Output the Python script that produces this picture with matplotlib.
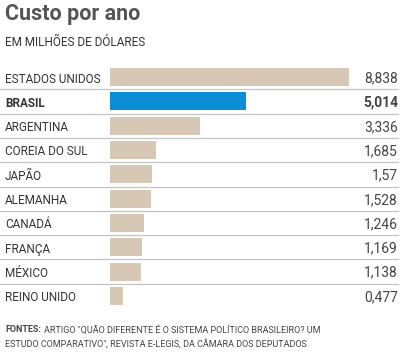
import matplotlib.pyplot as plt
from matplotlib.transforms import blended_transform_factory

countries = ["ESTADOS UNIDOS", "BRASIL", "ARGENTINA", "COREIA DO SUL", "JAPÃO",
             "ALEMANHA", "CANADÁ", "FRANÇA", "MÉXICO", "REINO UNIDO"]
values = [8.838, 5.014, 3.336, 1.685, 1.57, 1.528, 1.246, 1.169, 1.138, 0.477]
value_labels = ["8,838", "5,014", "3,336", "1,685", "1,57", "1,528", "1,246",
                "1,169", "1,138", "0,477"]
highlight = "BRASIL"

W, H = 404, 353
plt.rcParams['font.family'] = ['Liberation Sans Narrow', 'Roboto', 'DejaVu Sans']

fig = plt.figure(figsize=(W / 100, H / 100), dpi=100)

# axes spans full width; bars start at pixel x=110
px_per_unit = 239 / 8.838
x0 = 110
top, bottom = 65, 308
ax = fig.add_axes([0, 1 - bottom / H, 1, (bottom - top) / H])
ax.set_xlim(-x0 / px_per_unit, (W - x0) / px_per_unit)
ax.set_ylim(len(countries) - 0.5, -0.5)
ax.axis('off')

tan = '#d6c8b4'
blue = '#0a8fd6'
txt = '#333333'

colors = [blue if c == highlight else tan for c in countries]
ax.barh(range(len(countries)), values, height=0.74, color=colors, left=0)

for i in range(len(countries) - 1):
    ax.axhline(i + 0.5, xmin=0, xmax=398 / W, color='#c4c4c4', lw=0.9)

tr = blended_transform_factory(fig.transFigure, ax.transData)
for i, (c, v) in enumerate(zip(countries, value_labels)):
    bold = c == highlight
    ax.text(5 / W, i + 0.08, c, transform=tr, ha='left', va='center',
            fontsize=8.5, color=txt, fontweight='bold' if bold else 'normal')
    ax.text(398 / W, i + 0.05, v, transform=tr, ha='right', va='center',
            fontsize=10, color='#444444', fontweight='bold' if bold else 'normal')

fig.text(5 / W, 1 - 14 / H, "Custo por ano", fontsize=15.5, fontweight='bold',
         color='#555555', va='center', ha='left')
fig.text(5 / W, 1 - 42 / H, "EM MILHÕES DE DÓLARES", fontsize=8.5,
         color=txt, va='center', ha='left')

src = fig.text(5 / W, 1 - 330 / H, "FONTES:", fontsize=6.5, fontweight='bold',
               color='#444444', va='center', ha='left')
fig.canvas.draw()
bb = src.get_window_extent()
fig.text((bb.x1 + 3) / W, 1 - 330 / H,
         "ARTIGO \"QUÃO DIFERENTE É O SISTEMA POLÍTICO BRASILEIRO? UM",
         fontsize=6.5, color='#444444', va='center', ha='left')
fig.text(5 / W, 1 - 344 / H,
         "ESTUDO COMPARATIVO\", REVISTA E-LEGIS, DA CÂMARA DOS DEPUTADOS",
         fontsize=6.5, color='#444444', va='center', ha='left')

fig.savefig("out.png", dpi=100)
